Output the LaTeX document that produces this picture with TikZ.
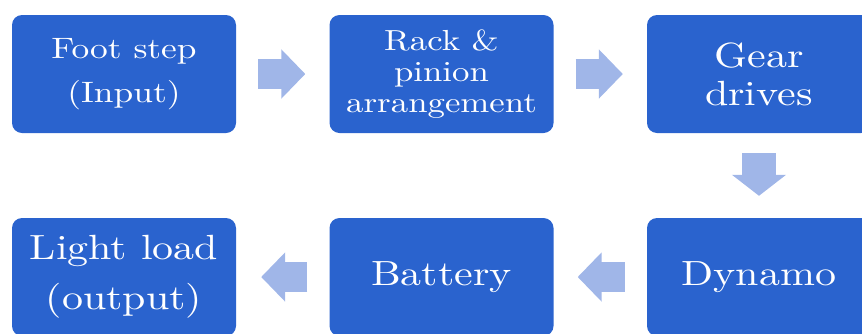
\documentclass[tikz,border=0pt]{standalone}
\usepackage{fontspec}
\usetikzlibrary{arrows.meta}
\newfontfamily\boxfont{lmroman10-regular}[Extension=.otf,FakeStretch=1.2]
\definecolor{boxblue}{RGB}{42,99,206}
\definecolor{arrowblue}{RGB}{160,182,232}
\begin{document}
\begin{tikzpicture}[x=1pt, y=-1pt,
  stagebox/.style={fill=boxblue, rounded corners=10pt, minimum width=224pt,
    minimum height=118pt, inner sep=0pt, text=white, align=center},
  flow/.style={draw=arrowblue, line width=30pt,
    -{Triangle[length=24pt, width=48pt]}, shorten <=22pt, shorten >=24pt},
  drop/.style={draw=arrowblue, line width=34pt,
    -{Triangle[length=21pt, width=53pt]}, shorten <=20pt, shorten >=22pt}]
  \useasboundingbox (0,0) rectangle (862,333);
  \clip (0,0) rectangle (862,333);

  \node[stagebox, font=\boxfont\fontsize{29.5}{44}\selectfont] (foot) at (124,74) {Foot step\\(Input)};
  \node[stagebox, font=\boxfont\fontsize{29}{31}\selectfont] (rack) at (441.5,74) {Rack \&\\pinion\\arrangement};
  \node[stagebox, font=\boxfont\fontsize{35}{38}\selectfont] (gear) at (759,74) {Gear\\drives};

  \node[stagebox, font=\boxfont\fontsize{35}{50}\selectfont] (light) at (124,277) {Light load\\(output)};
  \node[stagebox, font=\boxfont\fontsize{35}{42}\selectfont] (battery) at (441.5,277) {Battery};
  \node[stagebox, font=\boxfont\fontsize{35}{42}\selectfont] (dynamo) at (759,277) {Dynamo};

  \draw[flow] (foot) -- (rack);
  \draw[flow] (rack) -- (gear);
  \draw[drop] (gear) -- (dynamo);
  \draw[flow] (dynamo) -- (battery);
  \draw[flow, shorten >=25pt] (battery) -- (light);
\end{tikzpicture}
\end{document}
